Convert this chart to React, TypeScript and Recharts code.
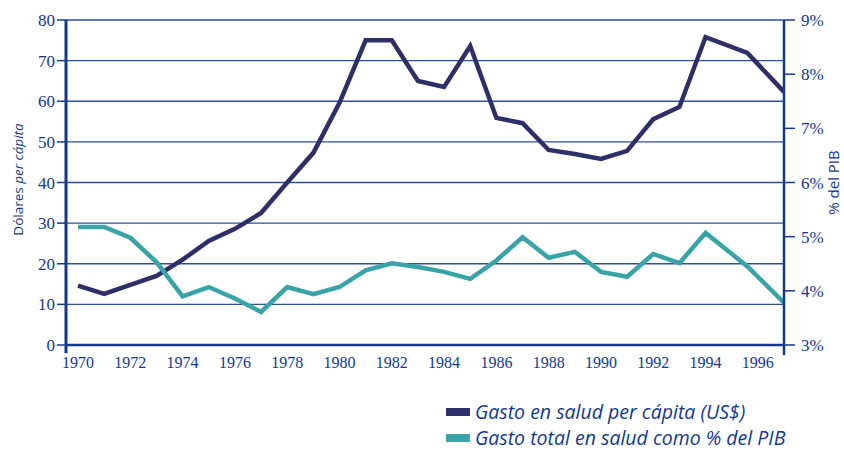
import React from 'react';
import { LineChart, Line, XAxis, YAxis, CartesianGrid, ReferenceLine } from 'recharts';

// Gasto en salud per cápita (US$) — years and values
const perCapitaYears = [1970, 1971, 1972, 1973, 1974, 1975, 1976, 1977, 1978, 1979, 1980, 1981, 1982, 1983, 1984, 1985, 1986, 1987, 1988, 1989, 1990, 1991, 1992, 1993, 1994, 1995.6, 1997];
const perCapitaValues = [14.6, 12.6, 14.8, 17.0, 21.0, 25.6, 28.6, 32.5, 40.0, 47.3, 59.6, 75.0, 75.0, 65.0, 63.5, 73.6, 55.9, 54.6, 48.0, 47.0, 45.8, 47.8, 55.6, 58.6, 75.8, 71.9, 62.3];

// Gasto total en salud como % del PIB
const pibYears = [1970, 1971, 1972, 1973, 1974, 1975, 1976, 1977, 1978, 1979, 1980, 1981, 1982, 1983, 1984, 1985, 1986, 1987, 1988, 1989, 1990, 1991, 1992, 1993, 1994, 1995.6, 1997];
const pibValues = [5.18, 5.18, 4.98, 4.53, 3.9, 4.07, 3.86, 3.61, 4.07, 3.94, 4.07, 4.38, 4.51, 4.44, 4.35, 4.22, 4.56, 4.99, 4.61, 4.72, 4.35, 4.26, 4.68, 4.51, 5.07, 4.45, 3.78];

const yearTicks = [1970, 1972, 1974, 1976, 1978, 1980, 1982, 1984, 1986, 1988, 1990, 1992, 1994, 1996];
const leftTicks = [0, 10, 20, 30, 40, 50, 60, 70, 80];
const rightTicks = [3, 4, 5, 6, 7, 8, 9];

const seriesNames = ['Gasto en salud per cápita (US$)', 'Gasto total en salud como % del PIB'];

const perCapitaData = perCapitaYears.map((year, i) => ({ year, value: perCapitaValues[i] }));
const pibData = pibYears.map((year, i) => ({ year, value: pibValues[i] }));

const NAVY = '#14388c';
const GRID = '#2f4f9c';
const DARK = '#2e2f68';
const TEAL = '#3aa3a7';

const tickFont = { fontFamily: '"Liberation Serif", serif', fontSize: 17, fill: NAVY };

const LeftLabel = (props: any) => {
  const vb = props.viewBox || {};
  const x = vb.x + 19;
  const y = vb.y + vb.height / 2 - 3;
  return (
    <text x={x} y={y} transform={`rotate(-90 ${x} ${y})`} textAnchor="middle" dominantBaseline="middle"
      style={{ fontFamily: '"Open Sans", sans-serif', fontSize: 13.5, fill: NAVY }}>
      <tspan>Dólares </tspan>
      <tspan fontStyle="italic">per cápita</tspan>
    </text>
  );
};

const RightLabel = (props: any) => {
  const vb = props.viewBox || {};
  const x = vb.x + 51;
  const y = vb.y + vb.height / 2;
  return (
    <text x={x} y={y} transform={`rotate(-90 ${x} ${y})`} textAnchor="middle" dominantBaseline="middle"
      style={{ fontFamily: '"Open Sans", sans-serif', fontSize: 15, fill: NAVY }}>
      % del PIB
    </text>
  );
};

const legendColors = [DARK, TEAL];

export default function App() {
  return (
    <div style={{ position: 'absolute', left: 0, top: 0, width: 844, height: 450, background: '#fff' }}>
      <LineChart width={844} height={450} margin={{ top: 20, right: 0, bottom: 75, left: 0 }}>
        <CartesianGrid yAxisId="left" horizontal vertical={false} stroke={GRID} strokeWidth={1.3} />
        <XAxis
          dataKey="year"
          type="number"
          domain={[1969.54, 1997]}
          allowDataOverflow
          ticks={yearTicks}
          interval={0}
          height={30}
          tickLine={false}
          tickSize={0}
          tickMargin={12}
          axisLine={{ stroke: NAVY, strokeWidth: 2.5 }}
          tick={{ ...tickFont, fontSize: 16 }}
        />
        <YAxis
          yAxisId="left"
          orientation="left"
          width={66}
          domain={[0, 80]}
          ticks={leftTicks}
          interval={0}
          tickSize={9}
          tickMargin={2}
          axisLine={{ stroke: NAVY, strokeWidth: 3 }}
          tickLine={{ stroke: NAVY, strokeWidth: 1.5 }}
          tick={tickFont}
          label={<LeftLabel />}
        />
        <YAxis
          yAxisId="right"
          orientation="right"
          width={60}
          domain={[3, 9]}
          ticks={rightTicks}
          interval={0}
          tickSize={11}
          tickMargin={6}
          tickFormatter={(v: number) => `${v}%`}
          axisLine={{ stroke: NAVY, strokeWidth: 2.5 }}
          tickLine={{ stroke: NAVY, strokeWidth: 1.5 }}
          tick={{ ...tickFont, textAnchor: 'start' }}
          label={<RightLabel />}
        />
        <ReferenceLine yAxisId="left" ifOverflow="visible" segment={[{ x: 1969.54, y: 0 }, { x: 1969.54, y: -2 }]} stroke={NAVY} strokeWidth={3} />
        <ReferenceLine yAxisId="left" ifOverflow="visible" segment={[{ x: 1997, y: 0 }, { x: 1997, y: -2.5 }]} stroke={NAVY} strokeWidth={2.5} />
        <Line yAxisId="left" data={perCapitaData} dataKey="value" name={seriesNames[0]} stroke={DARK} strokeWidth={4.5} dot={false} activeDot={false} isAnimationActive={false} />
        <Line yAxisId="right" data={pibData} dataKey="value" name={seriesNames[1]} stroke={TEAL} strokeWidth={4.5} dot={false} activeDot={false} isAnimationActive={false} />
      </LineChart>
      <div style={{ position: 'absolute', left: 446, top: 399, fontFamily: '"Open Sans", sans-serif', fontStyle: 'italic', fontSize: 19.5, color: NAVY, lineHeight: '26px' }}>
        {seriesNames.map((n, i) => (
          <div key={n} style={{ display: 'flex', alignItems: 'center', whiteSpace: 'nowrap' }}>
            <span style={{ display: 'inline-block', width: 24, height: 8, background: legendColors[i], marginRight: 5 }} />
            <span>{n}</span>
          </div>
        ))}
      </div>
    </div>
  );
}
